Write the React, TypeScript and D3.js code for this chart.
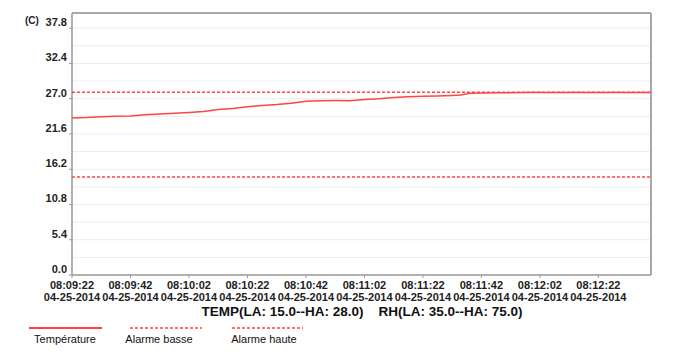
import React from "react";
import * as d3 from "d3";

const yTicks = [0, 5.4, 10.8, 16.2, 21.6, 27.0, 32.4, 37.8];
const xTickSeconds = [0, 20, 40, 60, 80, 100, 120, 140, 160, 180];
const xTickTimes = ["08:09:22", "08:09:42", "08:10:02", "08:10:22", "08:10:42", "08:11:02", "08:11:22", "08:11:42", "08:12:02", "08:12:22"];
const xTickDate = "04-25-2014";
const tempSeconds = [0, 5, 10, 15, 20, 25, 30, 35, 40, 45, 50, 55, 60, 65, 70, 75, 80, 85, 90, 95, 100, 105, 110, 115, 120, 125, 130, 133, 136, 140, 147, 155, 165, 180, 198];
const tempValues = [24.04, 24.1, 24.24, 24.3, 24.35, 24.55, 24.65, 24.78, 24.9, 25.03, 25.35, 25.5, 25.75, 25.95, 26.1, 26.3, 26.6, 26.7, 26.72, 26.7, 26.88, 27.0, 27.18, 27.28, 27.38, 27.42, 27.5, 27.55, 27.83, 27.87, 27.92, 27.93, 27.93, 27.93, 27.93];
const lowAlarm = 15.0;
const highAlarm = 28.0;
const summaryText = "TEMP(LA: 15.0--HA: 28.0)    RH(LA: 35.0--HA: 75.0)";
const legendLabels = ["Température", "Alarme basse", "Alarme haute"];

const RED = "#ff4444";
const FONT = "'Liberation Sans', Arial, sans-serif";

export default function App() {
  const left = 72, right = 651, top = 13, bottom = 275;
  const x = d3.scaleLinear().domain([0, 198]).range([left, right]);
  const y = d3.scaleLinear().domain([0, 40.12]).range([bottom, top]);
  const line = d3.line<number>().x((_, i) => x(tempSeconds[i])).y((d) => y(d));
  const gridVals = d3.range(0, 40.1, 2.7);

  return (
    <svg width={700} height={359} style={{ position: "absolute", left: 0, top: 0, background: "#fff" }} fontFamily={FONT}>
      {gridVals.map((g, i) => (
        <line key={i} x1={left} x2={right} y1={y(g)} y2={y(g)} stroke="#ececec" strokeWidth={1} />
      ))}
      {/* frame */}
      <line x1={left} x2={right} y1={top} y2={top} stroke="#a8a8a8" strokeWidth={2} />
      <line x1={right} x2={right} y1={top} y2={bottom} stroke="#a8a8a8" strokeWidth={2} />
      <line x1={left} x2={right} y1={bottom} y2={bottom} stroke="#999" strokeWidth={1.5} />
      <line x1={left} x2={left} y1={top} y2={bottom} stroke="#999" strokeWidth={1.5} />
      {/* alarms */}
      <line x1={left} x2={right} y1={y(lowAlarm)} y2={y(lowAlarm)} stroke={RED} strokeWidth={1.5} strokeDasharray="3,2" />
      <line x1={left} x2={right} y1={y(highAlarm)} y2={y(highAlarm)} stroke={RED} strokeWidth={1.5} strokeDasharray="3,2" />
      {/* temperature */}
      <path d={line(tempValues) || ""} fill="none" stroke={RED} strokeWidth={1.5} />
      {/* y axis */}
      {yTicks.map((t, i) => (
        <g key={i}>
          <line x1={left - 3} x2={left} y1={y(t)} y2={y(t)} stroke="#999" />
          <text x={67} y={y(t) - 5} textAnchor="end" dominantBaseline="middle" fontSize={11} fontWeight="bold" fill="#222">
            {t.toFixed(1)}
          </text>
        </g>
      ))}
      <text x={25} y={21} dominantBaseline="middle" fontSize={10} fontWeight="bold" fill="#222">(C)</text>
      {/* x axis */}
      {xTickSeconds.map((s, i) => (
        <g key={i}>
          <line x1={x(s)} x2={x(s)} y1={bottom} y2={bottom + 3} stroke="#999" />
          <text x={x(s)} y={286} textAnchor="middle" dominantBaseline="middle" fontSize={11} fontWeight="bold" fill="#222">
            {xTickTimes[i]}
          </text>
          <text x={x(s)} y={298} textAnchor="middle" dominantBaseline="middle" fontSize={11} fontWeight="bold" fill="#222">
            {xTickDate}
          </text>
        </g>
      ))}
      <text x={362} y={312} textAnchor="middle" dominantBaseline="middle" fontSize={13.5} fontWeight="bold" fill="#111" style={{ whiteSpace: "pre" }}>
        {summaryText}
      </text>
      {/* legend */}
      <line x1={29} x2={102} y1={328} y2={328} stroke={RED} strokeWidth={2} />
      <line x1={130} x2={202} y1={328} y2={328} stroke={RED} strokeWidth={1.5} strokeDasharray="3,2" />
      <line x1={232} x2={303} y1={328} y2={328} stroke={RED} strokeWidth={1.5} strokeDasharray="3,2" />
      {legendLabels.map((l, i) => (
        <text key={i} x={[65, 159, 264][i]} y={340} textAnchor="middle" dominantBaseline="middle" fontSize={11} fill="#111">
          {l}
        </text>
      ))}
    </svg>
  );
}
